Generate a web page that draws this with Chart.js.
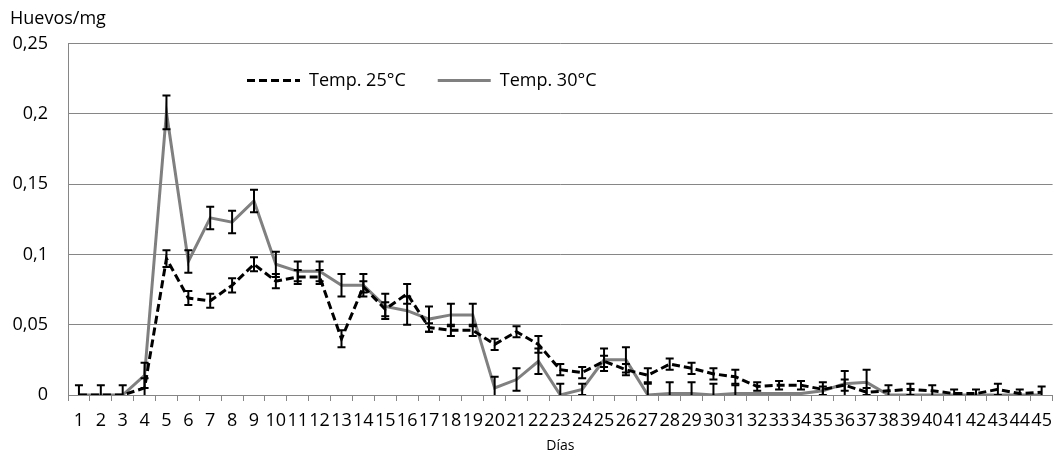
<!DOCTYPE html>
<html>
<head>
<meta charset="utf-8">
<script src="https://cdn.jsdelivr.net/npm/chart.js@4"></script>
<style>
  body { margin: 0; background: #fff; }
  #wrap { width: 1061px; height: 462px; }
</style>
</head>
<body>
<div id="wrap"><canvas id="graph"></canvas></div>
<script>
const days = [];
for (let d = 1; d <= 45; d++) days.push(String(d));

// Temp. 25°C
const temp25 = [0, 0, 0, 0.005, 0.097, 0.069, 0.067, 0.078, 0.093, 0.081,
  0.084, 0.084, 0.040, 0.077, 0.061, 0.072, 0.048, 0.046, 0.046, 0.036,
  0.045, 0.036, 0.018, 0.016, 0.024, 0.018, 0.014, 0.022, 0.019, 0.015,
  0.013, 0.006, 0.007, 0.007, 0.004, 0.007, 0.002, 0.003, 0.004, 0.003,
  0.001, 0.001, 0.004, 0.001, 0.002];
const err25 = [0.007, 0.007, 0.007, 0.007, 0.006, 0.005, 0.005, 0.005, 0.005, 0.005,
  0.005, 0.005, 0.006, 0.004, 0.005, 0.007, 0.003, 0.004, 0.004, 0.004,
  0.004, 0.006, 0.004, 0.004, 0.004, 0.004, 0.005, 0.004, 0.004, 0.004,
  0.005, 0.003, 0.003, 0.003, 0.005, 0.004, 0.003, 0.004, 0.004, 0.004,
  0.003, 0.003, 0.004, 0.003, 0.004];

// Temp. 30°C
const temp30 = [0, 0, 0, 0.014, 0.201, 0.095, 0.126, 0.123, 0.138, 0.093,
  0.088, 0.088, 0.078, 0.078, 0.063, 0.060, 0.054, 0.057, 0.057, 0.005,
  0.011, 0.024, 0, 0.004, 0.025, 0.025, 0, 0.001, 0.001, 0,
  0.001, 0.001, 0.001, 0.001, 0.003, 0.008, 0.009, 0, 0, 0,
  0, 0, 0, 0, 0];
const err30 = [0, 0, 0, 0.009, 0.012, 0.008, 0.008, 0.008, 0.008, 0.009,
  0.007, 0.007, 0.008, 0.008, 0.009, 0.010, 0.009, 0.008, 0.008, 0.008,
  0.008, 0.009, 0.008, 0.004, 0.008, 0.009, 0.008, 0.008, 0.008, 0.008,
  0.006, 0, 0, 0, 0.003, 0.009, 0.009, 0, 0, 0,
  0, 0, 0, 0, 0];

const yTickLabels = ['0', '0,05', '0,1', '0,15', '0,2', '0,25'];
const errors = [err25, err30];

// error bars, drawn through the y scale
const errorBars = {
  id: 'errorBars',
  afterDatasetsDraw(chart) {
    const ctx = chart.ctx;
    const y = chart.scales.y;
    const area = chart.chartArea;
    ctx.save();
    ctx.beginPath();
    ctx.rect(area.left, area.top, area.right - area.left, area.bottom - area.top);
    ctx.clip();
    ctx.strokeStyle = '#000';
    ctx.lineWidth = 2;
    chart.data.datasets.forEach((ds, d) => {
      const meta = chart.getDatasetMeta(d);
      ds.data.forEach((v, i) => {
        const e = errors[d][i];
        if (!e) return;
        const x = meta.data[i].x;
        const top = y.getPixelForValue(v + e);
        const bot = y.getPixelForValue(v - e);
        ctx.beginPath();
        ctx.moveTo(x, top); ctx.lineTo(x, bot);
        ctx.moveTo(x - 4, top); ctx.lineTo(x + 4, top);
        ctx.moveTo(x - 4, bot); ctx.lineTo(x + 4, bot);
        ctx.stroke();
      });
    });
    ctx.restore();
  }
};

// legend sits inside the plot in one row, left of centre like the original
const legendShift = {
  id: 'legendShift',
  afterInit(chart) {
    if (chart.legend) chart.legend.isHorizontal = () => true;
  },
  afterLayout(chart) {
    const lg = chart.legend;
    const w = lg.right - lg.left;
    lg.left = chart.chartArea.left + 147;
    lg.right = lg.left + w;
    lg.top = chart.chartArea.top - 4;
  }
};

const txt = '#000';
const grey = '#868686';

new Chart(document.getElementById('graph'), {
  type: 'line',
  data: {
    labels: days,
    datasets: [
      {
        label: 'Temp. 25°C',
        data: temp25,
        borderColor: '#000',
        backgroundColor: '#000',
        borderDash: [8, 4],
        borderWidth: 3,
        pointRadius: 0,
        tension: 0
      },
      {
        label: 'Temp. 30°C',
        data: temp30,
        borderColor: '#808080',
        backgroundColor: '#808080',
        borderWidth: 3,
        pointRadius: 0,
        tension: 0
      }
    ]
  },
  options: {
    responsive: true,
    maintainAspectRatio: false,
    animation: false,
    font: { family: 'Open Sans' },
    layout: { padding: { left: 10, right: 6, top: 0, bottom: 0 } },
    plugins: {
      title: {
        display: true,
        text: 'Huevos/mg',
        align: 'start',
        color: txt,
        font: { family: 'Open Sans', size: 18, weight: 'normal' },
        padding: { top: 8, bottom: 14 }
      },
      legend: {
        position: 'chartArea',
        fullSize: false,
        align: 'start',
        labels: {
          usePointStyle: true,
          pointStyle: 'line',
          pointStyleWidth: 53,
          padding: 32,
          color: txt,
          font: { family: 'Open Sans', size: 18 },
          generateLabels(chart) {
            const items = Chart.defaults.plugins.legend.labels.generateLabels(chart);
            items.forEach((it, i) => {
              const ds = chart.data.datasets[i];
              it.lineDash = ds.borderDash || [];
              it.strokeStyle = ds.borderColor;
              it.lineWidth = ds.borderWidth;
            });
            return items;
          }
        }
      },
      tooltip: { enabled: false }
    },
    scales: {
      x: {
        offset: true,
        afterFit(scale) { scale.height = 67; },
        grid: { offset: true, drawOnChartArea: false, tickLength: 6, color: grey },
        border: { color: grey },
        ticks: {
          autoSkip: false, maxRotation: 0, minRotation: 0, padding: 9,
          color: txt, font: { family: 'Open Sans', size: 18 }
        },
        title: {
          display: true, text: 'Días', color: txt,
          font: { family: 'Open Sans', size: 14 },
          padding: { top: 0, bottom: 8 }
        }
      },
      y: {
        min: 0,
        max: 0.25,
        afterFit(scale) { scale.width = 58; },
        grid: { color: grey, drawTicks: false },
        border: { color: grey },
        ticks: {
          stepSize: 0.05,
          padding: 20,
          color: txt,
          font: { family: 'Open Sans', size: 18 },
          callback: (v) => yTickLabels[Math.round(v / 0.05)]
        }
      }
    }
  },
  plugins: [errorBars, legendShift]
});
</script>
</body>
</html>
